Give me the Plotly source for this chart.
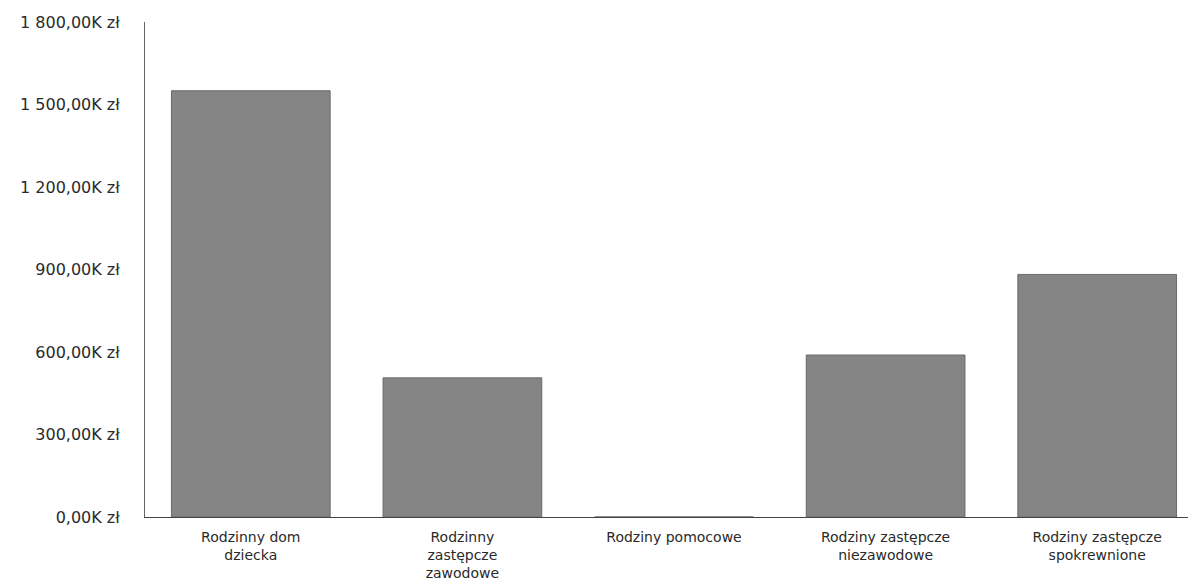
import plotly.graph_objects as go

# kategorie i wartości (tys. zł)
categories = [
    "Rodzinny dom<br>dziecka",
    "Rodzinny<br>zastępcze<br>zawodowe",
    "Rodziny pomocowe",
    "Rodziny zastępcze<br>niezawodowe",
    "Rodziny zastępcze<br>spokrewnione",
]
values = [1550, 506, 0, 589, 882]

tick_vals = [0, 300, 600, 900, 1200, 1500, 1800]
tick_text = ["0,00K zł", "300,00K zł", "600,00K zł", "900,00K zł",
             "1 200,00K zł", "1 500,00K zł", "1 800,00K zł"]

fig = go.Figure()

fig.add_trace(
    go.Bar(
        x=categories,
        y=values,
        marker=dict(color="#858585", line=dict(color="#6a6a6a", width=1)),
        hovertemplate="%{x}: %{y:.2f}K zł<extra></extra>",
    )
)

# strona ma 8px marginesu body, stąd przesunięcie
fig.update_layout(
    width=1196,
    height=575,
    margin=dict(l=137, r=1, t=14, b=66),
    paper_bgcolor="white",
    plot_bgcolor="white",
    bargap=0.25,
    showlegend=False,
    font=dict(family="DejaVu Sans", size=15, color="#2a2a2a"),
)

fig.update_xaxes(
    showline=True,
    linecolor="#444444",
    linewidth=1,
    showgrid=False,
    ticks="",
    automargin=False,
    ticklabelstandoff=7,
    tickfont=dict(size=14),
)

fig.update_yaxes(
    range=[0, 1800],
    tickvals=tick_vals,
    ticktext=tick_text,
    showgrid=False,
    showline=True,
    linecolor="#666666",
    linewidth=1,
    zeroline=False,
    ticks="",
    automargin=False,
    ticklabelstandoff=21,
    tickfont=dict(size=16),
)

fig.write_html("out.html")
